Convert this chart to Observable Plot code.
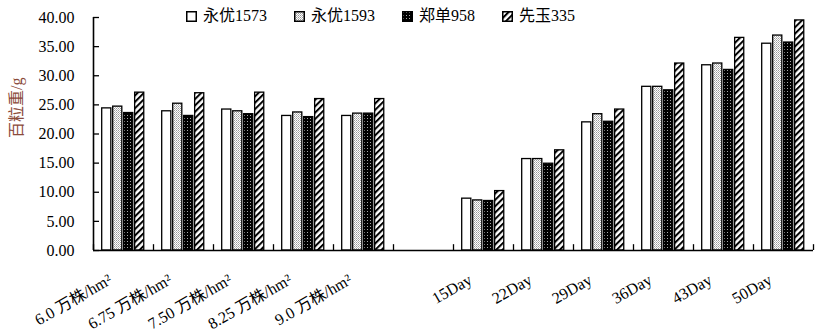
<!DOCTYPE html>
<html><head><meta charset="utf-8">
<script src="https://cdn.jsdelivr.net/npm/d3@7"></script>
<script src="https://cdn.jsdelivr.net/npm/@observablehq/plot@0.6"></script>
<style>
body{margin:0;background:#fff;}
#wrap{position:relative;width:819px;height:335px;font-family:"Liberation Serif","Noto Sans CJK SC",serif;}
#legend{position:absolute;top:6px;left:186px;display:flex;align-items:center;font-size:16px;color:#000;line-height:20px;}
.item{display:flex;align-items:center;margin-right:27px;}
.item svg{margin-right:6px;display:block;}
</style></head><body><div id="wrap"><div id="legend"></div></div>
<script>
// Category slots along the x axis ("" = empty gap slot)
const slots = ["6.0 万株/hm²", "6.75 万株/hm²", "7.50 万株/hm²", "8.25 万株/hm²", "9.0 万株/hm²", "",
               "15Day", "22Day", "29Day", "36Day", "43Day", "50Day"];
const series = ["永优1573", "永优1593", "郑单958", "先玉335"];
// 百粒重 (g) per non-empty slot, in slot order
const yongyou1573 = [24.4, 23.9, 24.2, 23.1, 23.1, 8.9, 15.7, 22.0, 28.1, 31.8, 35.5];
const yongyou1593 = [24.7, 25.2, 23.9, 23.7, 23.5, 8.6, 15.7, 23.4, 28.1, 32.1, 36.9];
const zhengdan958 = [23.6, 23.1, 23.4, 22.9, 23.5, 8.5, 14.9, 22.1, 27.5, 31.0, 35.7];
const xianyu335   = [27.1, 27.0, 27.1, 26.0, 26.0, 10.2, 17.2, 24.2, 32.1, 36.5, 39.5];
const yTicks = [0, 5, 10, 15, 20, 25, 30, 35, 40];

const seriesValues = [yongyou1573, yongyou1593, zhengdan958, xianyu335];
const fills = ["#ffffff", "url(#pat-light)", "url(#pat-dark)", "url(#pat-hatch)"];

// build table
const rows = [];
let g = 0;
slots.forEach((lab, i) => {
  if (lab === "") return;
  series.forEach((s, k) => rows.push({slot: i, label: lab, series: s, k, value: seriesValues[k][g]}));
  g++;
});
const labelSlots = slots.map((s, i) => i).filter(i => slots[i] !== "");

// group layout (fractions of a slot)
const off = 0.145, step = 0.183, bw = 0.152;

const marks = series.map((s, k) => Plot.rectY(rows.filter(d => d.k === k), {
  x1: d => d.slot + off + k * step,
  x2: d => d.slot + off + k * step + bw,
  y: "value",
  fill: fills[k], stroke: "#000", strokeWidth: 1.3
}));

const chart = Plot.plot({
  width: 819, height: 335,
  marginLeft: 93, marginRight: 6, marginTop: 17, marginBottom: 85,
  style: {fontFamily: '"Liberation Serif","Noto Sans CJK SC",serif', fontSize: "16px", color: "#000", background: "#fff"},
  x: {type: "linear", domain: [0, slots.length]},
  y: {domain: [0, 40]},
  marks: [
    ...marks,
    Plot.ruleX(d3.range(0, slots.length + 1), {y1: 0, y2: 1, stroke: "#000", strokeWidth: 1.3}),
    Plot.ruleY(yTicks, {x1: 0, x2: 0.1, stroke: "#000", strokeWidth: 1.3}),
    Plot.ruleY([0], {stroke: "#000", strokeWidth: 1.6}),
    Plot.ruleX([0], {stroke: "#000", strokeWidth: 1.6}),
    Plot.axisY(yTicks, {tickFormat: d => d.toFixed(2), tickSize: 0, tickPadding: 19, fontSize: 16, label: null}),
    Plot.axisX(labelSlots.map(i => i + 0.5), {tickFormat: d => slots[Math.floor(d)], tickRotate: -30, tickSize: 0, tickPadding: 28, dx: -13, fontSize: 16, label: null}),
    Plot.text(["百粒重/g"], {frameAnchor: "left", rotate: -90, dx: -77, dy: 4, fill: "#8b4b3b", fontSize: 16})
  ]
});

// patterns
const defsHTML = `
<pattern id="pat-light" patternUnits="userSpaceOnUse" width="2" height="2">
  <rect width="2" height="2" fill="#fff"/><rect width="1" height="1" fill="#999"/><rect x="1" y="1" width="1" height="1" fill="#bbb"/>
</pattern>
<pattern id="pat-dark" patternUnits="userSpaceOnUse" width="3" height="3">
  <rect width="3" height="3" fill="#000"/><rect x="1" y="1" width="1" height="1" fill="#aaa"/>
</pattern>
<pattern id="pat-hatch" patternUnits="userSpaceOnUse" width="4.5" height="4.5" patternTransform="rotate(45)">
  <rect width="4.5" height="4.5" fill="#fff"/><rect width="2" height="4.5" fill="#000"/>
</pattern>`;
const defs = document.createElementNS("http://www.w3.org/2000/svg", "defs");
defs.innerHTML = defsHTML;
chart.insertBefore(defs, chart.firstChild);
document.getElementById("wrap").appendChild(chart);

// legend
const legend = document.getElementById("legend");
series.forEach((s, k) => {
  const item = document.createElement("div");
  item.className = "item";
  item.innerHTML = `<svg width="11" height="11"><rect x="0.75" y="0.75" width="9.5" height="9.5" fill="${fills[k]}" stroke="#000" stroke-width="1.5"/></svg><span>${s}</span>`;
  legend.appendChild(item);
});
</script>
</body></html>
